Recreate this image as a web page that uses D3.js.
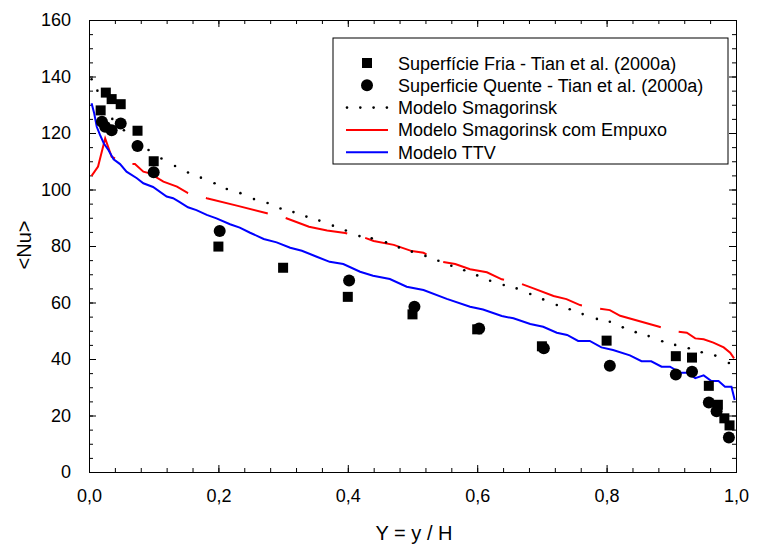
<!DOCTYPE html>
<html>
<head>
<meta charset="utf-8">
<script src="https://cdn.jsdelivr.net/npm/d3@7"></script>
<style>
  body { margin: 0; background: #fff; }
  text { font-family: "Liberation Sans", Arial, sans-serif; fill: #000; }
</style>
</head>
<body>
<script>
const w = 757;
const h = 548;

// Tian et al. (2000a), cold wall (squares)
var friaX = [0.018, 0.026, 0.035, 0.049, 0.075, 0.100, 0.200, 0.300, 0.400, 0.500, 0.600, 0.700, 0.800, 0.907, 0.932, 0.958, 0.972, 0.982, 0.990];
var friaY = [128, 134.3, 132, 130.2, 120.8, 110, 79.8, 72.3, 62, 55.8, 50.5, 44.5, 46.5, 41, 40.5, 30.5, 23.8, 19, 16.5];

// Tian et al. (2000a), hot wall (circles)
var quenteX = [0.020, 0.025, 0.035, 0.049, 0.075, 0.100, 0.202, 0.402, 0.503, 0.603, 0.703, 0.805, 0.907, 0.932, 0.958, 0.970, 0.989];
var quenteY = [124, 122.2, 121, 123.4, 115.4, 106.1, 85.3, 67.8, 58.5, 50.8, 43.8, 37.6, 34.5, 35.5, 24.6, 21.5, 12.2];

// Modelo Smagorinsk (dotted)
var smagX = [0.004, 0.013, 0.036, 0.054, 0.075, 0.092, 0.112, 0.133, 0.153, 0.173, 0.194, 0.213, 0.234, 0.255, 0.276, 0.296, 0.316, 0.336, 0.356, 0.377, 0.397, 0.418, 0.437, 0.459, 0.479, 0.499, 0.520, 0.540, 0.560, 0.580, 0.600, 0.620, 0.641, 0.661, 0.682, 0.702, 0.723, 0.743, 0.763, 0.785, 0.805, 0.825, 0.845, 0.865, 0.886, 0.906, 0.927, 0.947, 0.968, 0.989];
var smagY = [139, 135, 125, 121, 117, 114, 111, 108.3, 106, 104.2, 102.2, 100.2, 98.7, 96.6, 95.2, 93.3, 92, 90.4, 89, 87.2, 85.5, 83.5, 82.7, 81.3, 79.5, 78, 76.5, 74.8, 73, 71.4, 69.6, 67.7, 66.2, 65, 63, 61.1, 59.1, 57.6, 55.9, 54.2, 53.2, 51.2, 49.5, 48.1, 46.3, 45, 43.8, 42.4, 41.2, 38.6];

// Modelo Smagorinsk com Empuxo (red)
var empX = [0.004, 0.014, 0.025, 0.035, 0.040, 0.050, 0.062, 0.071, 0.084, 0.094, 0.115, 0.136, 0.153, 0.182, 0.230, 0.275, 0.303, 0.340, 0.368, 0.396, 0.424, 0.440, 0.471, 0.499, 0.517, 0.545, 0.566, 0.589, 0.615, 0.638, 0.666, 0.687, 0.718, 0.738, 0.759, 0.787, 0.805, 0.821, 0.880, 0.908, 0.924, 0.937, 0.950, 0.965, 0.981, 0.991, 0.997];
var empY = [104.8, 108.1, 118.1, 111.6, 111, 110, 109, 109, 106.3, 105.7, 102.8, 101, 98.7, 96.9, 94.2, 91.6, 90, 86.8, 85.5, 84.6, 83.1, 81.8, 80.4, 78.2, 77.6, 74.4, 73.6, 71.8, 70.7, 68.2, 66.8, 65, 62.3, 61.2, 59.1, 57.9, 57.3, 55.3, 51.5, 49.7, 49.3, 47.3, 47, 45.8, 44.1, 42.2, 40.2];

// Modelo TTV (blue)
var ttvX = [0.004, 0.008, 0.012, 0.017, 0.023, 0.030, 0.038, 0.048, 0.058, 0.074, 0.084, 0.099, 0.120, 0.130, 0.139, 0.153, 0.166, 0.182, 0.197, 0.218, 0.233, 0.249, 0.270, 0.290, 0.311, 0.329, 0.352, 0.372, 0.393, 0.419, 0.439, 0.465, 0.491, 0.517, 0.553, 0.589, 0.609, 0.638, 0.656, 0.682, 0.702, 0.723, 0.739, 0.756, 0.774, 0.792, 0.810, 0.836, 0.854, 0.869, 0.885, 0.898, 0.914, 0.926, 0.937, 0.950, 0.962, 0.973, 0.983, 0.993, 0.998];
var ttvY = [130.5, 127, 122.2, 119.3, 116.3, 114, 110.7, 109, 106.3, 104, 102.2, 100.9, 97.5, 96.9, 95.7, 93.7, 92.7, 91, 89.8, 87.7, 86.5, 84.7, 82.5, 81.3, 79.4, 78.3, 76.2, 74.4, 73.6, 70.9, 69.5, 68.3, 65.6, 64.4, 61.3, 58.5, 57.5, 55.2, 54.4, 52.4, 51.4, 49.3, 48.5, 46.4, 46.4, 44.1, 43.2, 41.3, 39.2, 39.2, 37.3, 37.3, 35.1, 35.1, 33.2, 34.2, 32.2, 32.2, 30.2, 30.2, 25.5];

var xTicks = [0, 0.2, 0.4, 0.6, 0.8, 1.0];
var yTicks = [0, 20, 40, 60, 80, 100, 120, 140, 160];

var legendLabels = [
  "Superfície Fria - Tian et al. (2000a)",
  "Superficie Quente - Tian et al. (2000a)",
  "Modelo Smagorinsk",
  "Modelo Smagorinsk com Empuxo",
  "Modelo TTV"
];

const x = d3.scaleLinear().domain([0, 1]).range([89, 736]);
const y = d3.scaleLinear().domain([0, 160]).range([472, 20]);

const svg = d3.select("body")
              .append("svg")
              .attr("width", w)
              .attr("height", h);

const fmt = d => d3.format(".1f")(d).replace(".", ",");

// axes with inward ticks
svg.append("g").attr("transform", "translate(0,472)")
   .call(d3.axisBottom(x).tickValues(d3.range(0, 1.0001, 0.04)).tickSize(-4).tickFormat(""));
svg.append("g").attr("transform", "translate(0,472)")
   .call(d3.axisBottom(x).tickValues(xTicks).tickSize(-7).tickPadding(17).tickFormat(fmt));
svg.append("g").attr("transform", "translate(0,20)")
   .call(d3.axisTop(x).tickValues(d3.range(0, 1.0001, 0.04)).tickSize(-4).tickFormat(""));
svg.append("g").attr("transform", "translate(0,20)")
   .call(d3.axisTop(x).tickValues(xTicks).tickSize(-7).tickFormat(""));
svg.append("g").attr("transform", "translate(89,0)")
   .call(d3.axisLeft(y).tickValues(d3.range(0, 161, 5)).tickSize(-4).tickFormat(""));
svg.append("g").attr("transform", "translate(89,0)")
   .call(d3.axisLeft(y).tickValues(yTicks).tickSize(-7).tickPadding(18));
svg.append("g").attr("transform", "translate(736,0)")
   .call(d3.axisRight(y).tickValues(d3.range(0, 161, 5)).tickSize(-4).tickFormat(""));
svg.append("g").attr("transform", "translate(736,0)")
   .call(d3.axisRight(y).tickValues(yTicks).tickSize(-7).tickFormat(""));

svg.selectAll(".domain").attr("stroke", "#000").attr("stroke-width", 1);
svg.selectAll(".tick line").attr("stroke", "#000");
svg.selectAll(".tick text")
   .style("font-family", "'Liberation Sans', Arial, sans-serif")
   .style("font-size", "18px")
   .attr("fill", "#000");

// axis titles
svg.append("text")
   .attr("x", 414).attr("y", 540)
   .attr("text-anchor", "middle")
   .style("font-size", "20px")
   .text("Y = y / H");
svg.append("text")
   .attr("transform", "translate(31,245) rotate(-90)")
   .attr("text-anchor", "middle")
   .style("font-size", "20px")
   .text("<Nu>");

const line = d3.line().x(d => x(d[0])).y(d => y(d[1]));

// red long-dash line: 8 full dash periods plus a last dash
const red = svg.append("path")
   .datum(empX.map((v, i) => [v, empY[i]]))
   .attr("d", line)
   .attr("fill", "none")
   .attr("stroke", "#ff0000")
   .attr("stroke-width", 2);
const redLen = red.node().getTotalLength();
const gap = 18.5;
const period = (redLen + gap) / 9;
red.attr("stroke-dasharray", (period - gap) + "," + gap);

svg.append("path")
   .datum(ttvX.map((v, i) => [v, ttvY[i]]))
   .attr("d", line)
   .attr("fill", "none")
   .attr("stroke", "#0000ff")
   .attr("stroke-width", 2);

svg.selectAll("circle.smag")
   .data(smagX.map((v, i) => [v, smagY[i]]))
   .enter()
   .append("circle")
   .attr("class", "smag")
   .attr("cx", d => x(d[0]))
   .attr("cy", d => y(d[1]))
   .attr("r", 1.3)
   .style("fill", "#000");

svg.selectAll("rect.fria")
   .data(friaX.map((v, i) => [v, friaY[i]]))
   .enter()
   .append("rect")
   .attr("class", "fria")
   .attr("x", d => x(d[0]) - 5)
   .attr("y", d => y(d[1]) - 5)
   .attr("width", 10)
   .attr("height", 10)
   .style("fill", "#000");

svg.selectAll("circle.quente")
   .data(quenteX.map((v, i) => [v, quenteY[i]]))
   .enter()
   .append("circle")
   .attr("class", "quente")
   .attr("cx", d => x(d[0]))
   .attr("cy", d => y(d[1]))
   .attr("r", 6)
   .style("fill", "#000");

// legend
const lg = svg.append("g");
lg.append("rect")
  .attr("x", 333).attr("y", 38)
  .attr("width", 395).attr("height", 126)
  .attr("fill", "#fff")
  .attr("stroke", "#000")
  .attr("stroke-width", 1);

const rowY = i => 63 + i * 22.3;
lg.selectAll("text")
  .data(legendLabels)
  .enter()
  .append("text")
  .attr("x", 398)
  .attr("y", (d, i) => rowY(i) + 6.5)
  .style("font-size", "18px")
  .text(d => d);

lg.append("rect").attr("x", 362).attr("y", rowY(0) - 5).attr("width", 10).attr("height", 10).attr("fill", "#000");
lg.append("circle").attr("cx", 367).attr("cy", rowY(1)).attr("r", 6).attr("fill", "#000");
lg.selectAll("circle.ld")
  .data([0, 1, 2, 3])
  .enter()
  .append("circle")
  .attr("class", "ld")
  .attr("cx", d => 347 + d * 13.3)
  .attr("cy", rowY(2))
  .attr("r", 1.3)
  .attr("fill", "#000");
lg.append("line").attr("x1", 346).attr("x2", 388).attr("y1", rowY(3)).attr("y2", rowY(3))
  .attr("stroke", "#ff0000").attr("stroke-width", 2);
lg.append("line").attr("x1", 346).attr("x2", 388).attr("y1", rowY(4)).attr("y2", rowY(4))
  .attr("stroke", "#0000ff").attr("stroke-width", 2);
</script>
</body>
</html>
